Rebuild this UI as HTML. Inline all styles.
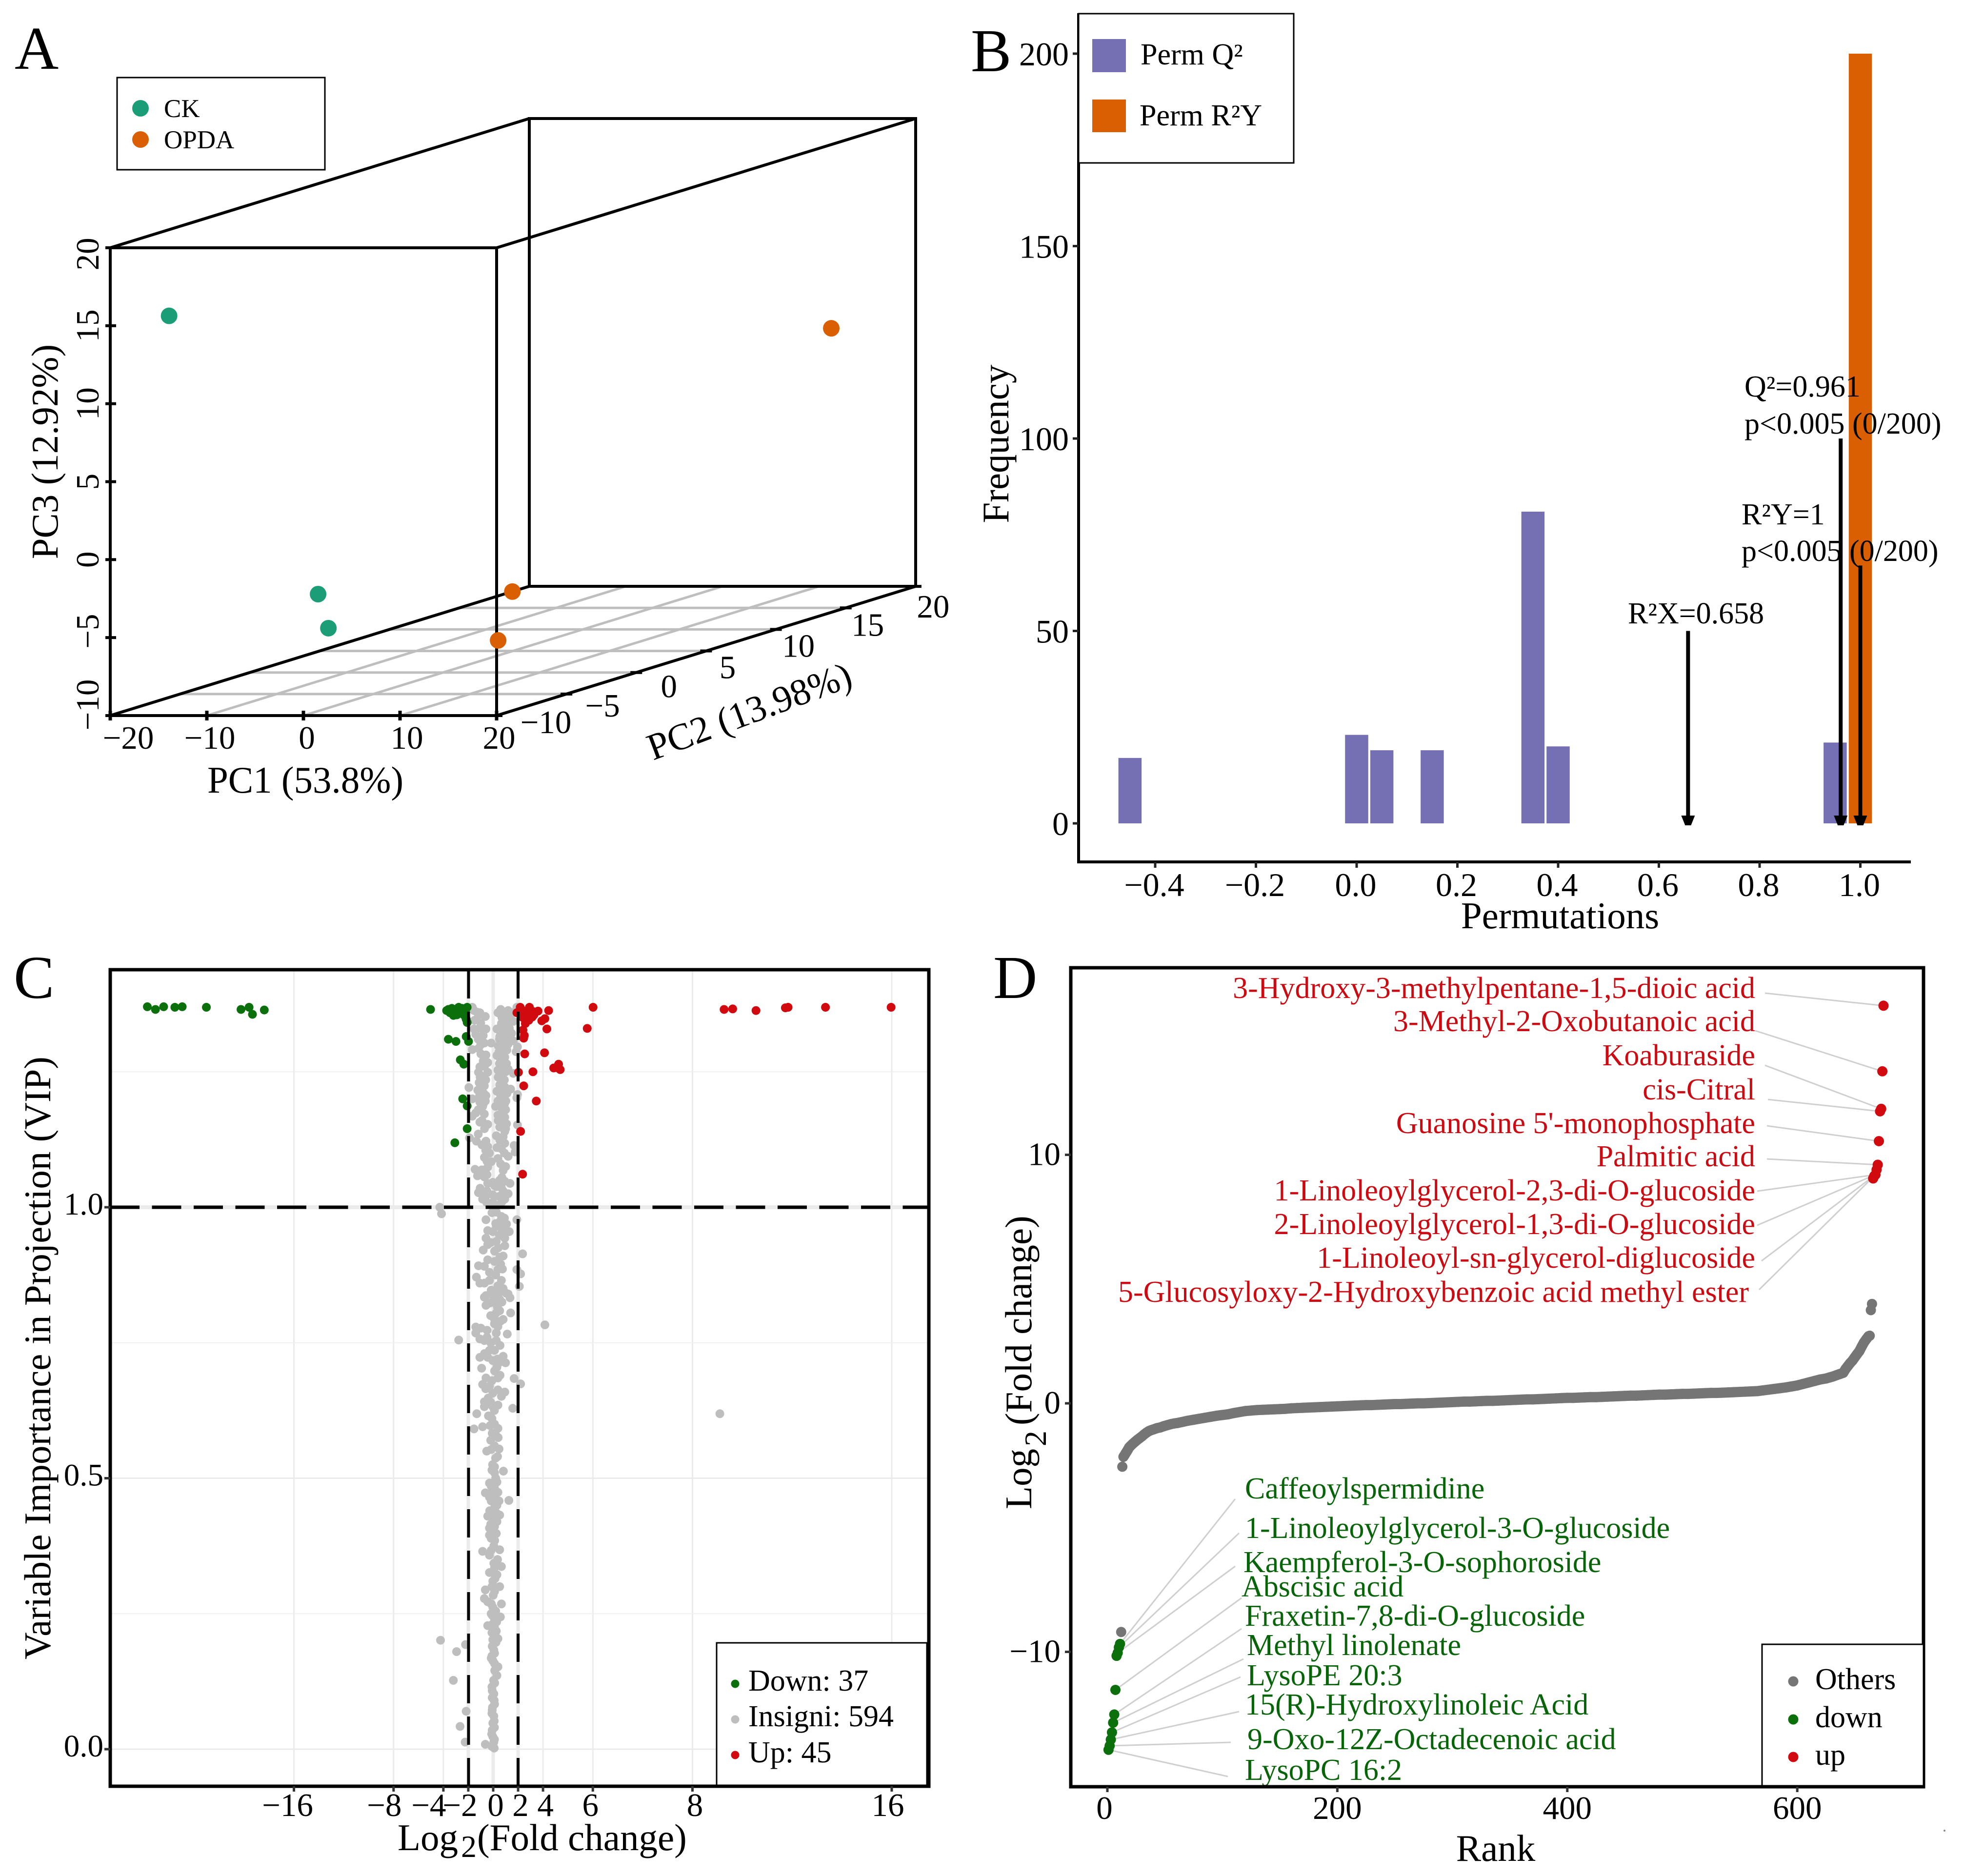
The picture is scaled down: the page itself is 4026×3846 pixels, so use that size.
<!DOCTYPE html>
<html lang="en">
<head>
<meta charset="utf-8">
<title>Metabolomics four-panel figure</title>
<style>
html,body{margin:0;padding:0;background:#fff;}
svg{display:block;font-family:"Liberation Serif","Times New Roman",serif;}
</style>
</head>
<body>
<svg id="figure" width="4026" height="3846" viewBox="0 0 4026 3846">
  <rect x="0" y="0" width="4026" height="3846" fill="#ffffff"/>

  <!-- PANEL A -->
  <g id="panelA">
    <text x="30" y="141" font-size="125">A</text>
    <g id="a-grid"></g>
    <g fill="none" stroke="#000" stroke-width="6">
      <rect x="226" y="508" width="792" height="959"/>
      <rect x="1085" y="243" width="792" height="959"/>
      <line x1="226" y1="508" x2="1085" y2="243"/>
      <line x1="1018" y1="508" x2="1877" y2="243"/>
      <line x1="226" y1="1467" x2="1085" y2="1202"/>
      <line x1="1018" y1="1467" x2="1877" y2="1202"/>
    </g>
    <g id="a-axes"></g>
    <g id="a-points"></g>
    <text x="626" y="1625" font-size="77" text-anchor="middle">PC1 (53.8%)</text>
    <text transform="translate(118,926) rotate(-90)" font-size="77" text-anchor="middle">PC3 (12.92%)</text>
    <text transform="translate(1545,1482) rotate(-20.5)" font-size="77" text-anchor="middle">PC2 (13.98%)</text>
    <g>
      <rect x="240" y="159" width="426" height="189" fill="#fff" stroke="#000" stroke-width="3"/>
      <circle cx="288" cy="222" r="17" fill="#1B9E77"/>
      <circle cx="288" cy="286" r="17" fill="#D95F02"/>
      <text x="336" y="240" font-size="53">CK</text>
      <text x="336" y="304" font-size="53">OPDA</text>
    </g>
  </g>

  <!-- PANEL B -->
  <g id="panelB">
    <g id="b-bars"></g>
    <line x1="2211" y1="27" x2="2211" y2="1770" stroke="#000" stroke-width="6"/>
    <line x1="2208" y1="1767" x2="3917" y2="1767" stroke="#000" stroke-width="6"/>
    <g id="b-axes"></g>
    <g id="b-arrows"></g>
    <text x="1990" y="146" font-size="125">B</text>
    <text x="3198" y="1903" font-size="77" text-anchor="middle">Permutations</text>
    <text transform="translate(2067,910) rotate(-90)" font-size="77" text-anchor="middle">Frequency</text>
    <text x="3337" y="1278" font-size="62">R²X=0.658</text>
    <text x="3576" y="813" font-size="62">Q²=0.961</text>
    <text x="3576" y="889" font-size="62">p&lt;0.005 (0/200)</text>
    <text x="3570" y="1075" font-size="62">R²Y=1</text>
    <text x="3570" y="1150" font-size="62">p&lt;0.005 (0/200)</text>
    <g>
      <rect x="2211" y="28" width="441" height="306" fill="#fff" stroke="#000" stroke-width="3"/>
      <rect x="2239" y="80" width="69" height="68" fill="#7570B3"/>
      <rect x="2239" y="204" width="69" height="67" fill="#D95F02"/>
      <text x="2338" y="132" font-size="62">Perm Q²</text>
      <text x="2336" y="257" font-size="62">Perm R²Y</text>
    </g>
  </g>

  <!-- PANEL C -->
  <g id="panelC">
    <text x="28" y="2046" font-size="125">C</text>
    <g id="c-grid"></g>
    <g id="c-points"></g>
    <g stroke="#000" stroke-width="6" fill="none">
      <line x1="226" y1="2475" x2="1904" y2="2475" stroke-width="7" stroke-dasharray="60 25.5"/>
      <line x1="960.5" y1="3662" x2="960.5" y2="1988" stroke-width="6" stroke-dasharray="58 27"/>
      <line x1="1062" y1="3662" x2="1062" y2="1988" stroke-width="6" stroke-dasharray="58 27"/>
    </g>
    <rect x="226" y="1988" width="1678" height="1674" fill="none" stroke="#000" stroke-width="7"/>
    <g id="c-axes"></g>
    <text y="3793" font-size="77"><tspan x="815">Log</tspan><tspan x="945" dy="14" font-size="64">2</tspan><tspan x="978" dy="-14">(Fold change)</tspan></text>
    <text transform="translate(103,2784) rotate(-90)" font-size="77" text-anchor="middle">Variable Importance in Projection (VIP)</text>
    <g>
      <rect x="1469" y="3368" width="431" height="292" fill="#fff" stroke="#000" stroke-width="3"/>
      <circle cx="1507" cy="3452" r="8.5" fill="#0b700b"/>
      <circle cx="1507" cy="3525" r="8.5" fill="#bebebe"/>
      <circle cx="1507" cy="3598" r="8.5" fill="#d10a0f"/>
      <text x="1534" y="3466" font-size="62">Down: 37</text>
      <text x="1534" y="3539" font-size="62">Insigni: 594</text>
      <text x="1534" y="3613" font-size="62">Up: 45</text>
    </g>
  </g>

  <!-- PANEL D -->
  <g id="panelD">
    <text x="2036" y="2046" font-size="125">D</text>
    <g id="d-leaders"></g>
    <g id="d-points"></g>
    <g id="d-labels"></g>
    <rect x="2195" y="1984" width="1748" height="1679" fill="none" stroke="#000" stroke-width="7"/>
    <g id="d-axes"></g>
    <text x="3066" y="3815" font-size="77" text-anchor="middle">Rank</text>
    <text transform="translate(2114,3094) rotate(-90)" font-size="77"><tspan x="0">Log</tspan><tspan x="129" dy="30" font-size="64">2</tspan><tspan x="172" dy="-30">(Fold change)</tspan></text>
    <g>
      <rect x="3612" y="3371" width="331" height="290" fill="#fff" stroke="#000" stroke-width="3"/>
      <circle cx="3676" cy="3447" r="10.5" fill="#757575"/>
      <circle cx="3676" cy="3525" r="10.5" fill="#0b700b"/>
      <circle cx="3676" cy="3602" r="10.5" fill="#d10a0f"/>
      <text x="3721" y="3463" font-size="62">Others</text>
      <text x="3721" y="3541" font-size="62">down</text>
      <text x="3721" y="3618" font-size="62">up</text>
    </g>
    <circle cx="3986" cy="3753" r="2" fill="#888"/>
  </g>
</svg>

<script>
/* ---------- Panel A data ---------- */
const ckPC1 = [-16.8, -2.82, -3.2];
const ckPC2 = [-8, -7, -6];
const ckPC3 = [15.08, -3.04, -5.5];
const opdaPC1 = [18.5, 14.4, 1.36];
const opdaPC2 = [15, -5, 3];
const opdaPC3 = [7.93, -3.43, -8.77];
const pc1Ticks = [-20, -10, 0, 10, 20];
const pc2Ticks = [-10, -5, 0, 5, 10, 15, 20];
const pc3Ticks = [-10, -5, 0, 5, 10, 15, 20];

/* ---------- Panel B data ---------- */
const q2BinCenters = [-0.45, 0, 0.05, 0.15, 0.35, 0.4, 0.95];
const q2Counts = [17, 23, 19, 19, 81, 20, 21];
const r2yBinCenters = [1.0];
const r2yCounts = [200];
const bXTicks = [-0.4, -0.2, 0, 0.2, 0.4, 0.6, 0.8, 1.0];
const bXTickLabels = ["\u22120.4", "\u22120.2", "0.0", "0.2", "0.4", "0.6", "0.8", "1.0"];
const bYTicks = [0, 50, 100, 150, 200];
const observedValues = [0.658, 0.961, 1.0];
const observedArrowTops = [50, 100, 67];

/* ---------- Panel C data ---------- */
const cXTicks = [-16, -8, -4, -2, 0, 2, 4, 8, 16, 32];
const cXTickLabels = ["\u221216", "\u22128", "\u22124", "\u22122", "0", "2", "4", "6", "8", "16"];
const cYTicks = [0, 0.5, 1.0];
const cYTickLabels = ["0.0", "0.5", "1.0"];
const cYMinor = [0.25, 0.75, 1.25];
const downFC = [-27.77,-27.12,-26.46,-25.56,-24.97,-23.03,-20.25,-19.6,-19.33,-18.38,
  -5.03,-3.6,-3.32,-3.74,-2.77,-2.64,-3.19,-2.09,-3.05,-2.23,-2.17,-2.09,
  -3.6,-2.99,-2.17,-1.98,-2.64,-2.36,-2.45,-2.09,-2.09,-3.08,-3.47,-2.92,-2.5,-2.36,-2.2];
const downVIP = [1.37,1.365,1.37,1.369,1.37,1.369,1.365,1.369,1.356,1.364,
  1.365,1.365,1.367,1.363,1.369,1.363,1.354,1.369,1.361,1.361,1.347,1.341,
  1.31,1.306,1.315,1.306,1.272,1.264,1.2,1.187,1.145,1.119,1.359,1.355,1.367,1.355,1.35];
const upFC = [2.17,1.9,2.91,3.6,4.45,8.02,18.54,19.23,21.1,23.46,23.68,26.68,31.95,
  2.31,2.58,2.86,2.45,2.72,2.58,3.13,3.27,3.9,4.15,4.31,7.55,2.39,2.5,2.45,2.53,4.12,
  2.03,3.19,4.86,5.25,5.19,5.38,2.45,3.46,2.2,2.36,3,2.72,2.31,2.86,3.21];
const upVIP = [1.369,1.359,1.369,1.362,1.363,1.369,1.365,1.366,1.363,1.368,1.369,1.369,1.369,
  1.359,1.355,1.355,1.349,1.347,1.339,1.351,1.355,1.344,1.348,1.329,1.33,1.327,1.317,1.312,1.283,1.285,
  1.249,1.25,1.257,1.264,1.257,1.254,1.224,1.196,1.14,1.061,1.363,1.363,1.351,1.345,1.361];
const insigniFC = [
  -1.68,-1.07,-.63,-1.54,-1.18,-1.54,-1.07,-.58,-1.4,-.8,-.16,-.71,-1.68,-1.18,-.99,-.58,-.44,-1.07,-1.18,-.44,
  -.85,-1.13,-.71,-1.24,-1.95,-.58,-1.68,-1.07,-.63,-.85,-1.4,-.71,-1.68,-1.07,-.44,-1.35,-.58,-1.9,-.44,-.3,
  -.71,-.16,-.44,-1.46,-.91,-1.26,-.71,-1.18,-.85,-.44,-.52,
  1.9,1.2,.38,1.48,.8,1.07,1.62,.66,1.2,.3,.8,1.48,.52,1.07,1.62,.58,1.2,1.95,.8,.47,
  1.84,.93,.58,1.07,.66,.38,1.2,.8,1.62,.66,.52,.93,1.4,.3,1.95,1.9,.66,.38,1.02,.19,
  .66,.38,.93,.66,1.07,.52,.93,1.95,.25,.52,.93,1.68,1.76,.66,1.2,.38,.8,-.03,.52,.93,
  1.35,.25,.66,1.2,-.03,.47,.93,-.03,.52,-4.29,-4.15,
  -.58,1.9,.25,.66,.52,1.07,.25,-.44,-.03,1.29,.66,.93,-.58,.25,-.8,-.44,.93,.11,.52,2.36,
  -1.18,-.44,-.71,.38,.74,1.9,2.2,-1.35,-1.07,-.3,.66,2.1,.38,-.16,-.58,.11,1.07,1.35,.52,-.3,.25,
  -.71,-.03,.52,1.2,-.58,.11,1.4,.25,.52,.8,.11,.38,1.13,-1.4,-.99,-.49,-1.4,.25,-1.07,-.71,
  .25,-.3,.11,-1.07,-.44,-.03,.8,.99,.52,-.93,.11,.38,-.58,1.68,2.2,-.85,-.3,.38,.93,-.03,
  -.71,.66,.38,1.57,-.71,-1.32,-.03,-.38,-1.54,-.85,-.25,.38,-.08,.25,-.52,-.16,.47,.19,.11,.82,.11,
  -.3,.3,-.63,-.03,.38,1.26,-.16,.47,.11,-.44,.52,-.03,-.16,.25,-.3,.25,-.16,.11,-.85,-.16,
  .52,.66,.11,-.3,-.03,.52,-.63,.11,-.71,.66,-.44,-.03,-.16,.58,.11,-.44,-.03,.25,-.03,.38,
  -.08,.11,-.16,.38,.11,.3,.03,-.08,-.08,.11,-.08,.05,-.03,-.08,-.03,.05,.08,
  4.15,18.2,-2.77,-4.23,-2.94,-2.22,-3.2,-2.17,-2.66,-2.25,-.63,
  -.1,.1,-.12,.1,.08,-.1,-.06,.08,.05,-.1,.12,.12,-.02,-.1,.05,.22,.1,-.1,.1,.28,
  -.08,.2,-.15,0,-.1,.15,.3,.05,.35,-.3,.05,.12,-.3,-.05,-.2,.3,-.28,.3,-.3,.15,
  .1,-.15,.2,-.1,-.05,.35,.1,-.2,.4,.1,-.1,
  .1,-.2,-.4,-.6,-.1,.55,.3,.35,-.7,.55,-.2,-.5,.1,.6,-.2,.35,.7,.8,-.7,.2,
  -.3,.6,.1,.8,.4,-.2,.5,.7,.2,.9,-.1,
  .7,.8,.1,.7,1,.6,.9,.3,.8,1,.4,.7,1,.9,.6,1.1,.55,.9,.4,1,
  .9,.5,.7,.3,1.1,.4,.9,.5,1,1.3,.9,1.3,.7,1.4,.9,.6,
  -1.3,-1.5,-1,-1.2,-1,-.8,-.7,-1.05,-.6,-.9,-1.1,-.75,-.8,-1.2,-.9,-.7,-1.2,-.9,-.6,-.5,
  -.5,-1.05,-.5,-.6];
const insigniVIP = [
  1.369,1.359,1.352,1.363,1.355,1.329,1.331,1.329,1.319,1.317,1.303,1.303,1.291,1.293,1.283,1.281,1.267,1.259,1.249,1.249,
  1.241,1.23,1.224,1.216,1.221,1.206,1.2,1.194,1.196,1.186,1.174,1.172,1.168,1.157,1.153,1.122,1.122,1.128,1.112,1.1,
  1.092,1.084,1.074,1.07,1.069,1.058,1.056,1.027,1.015,1.044,1.009,
  1.369,1.363,1.359,1.359,1.355,1.347,1.343,1.339,1.333,1.329,1.325,1.321,1.315,1.309,1.307,1.303,1.301,1.296,1.293,1.287,
  1.287,1.277,1.269,1.265,1.259,1.253,1.255,1.247,1.247,1.236,1.226,1.222,1.218,1.214,1.208,1.202,1.208,1.196,1.196,1.186,
  1.186,1.17,1.166,1.158,1.154,1.148,1.14,1.152,1.132,1.124,1.118,1.114,1.102,1.108,1.094,1.09,1.068,1.046,1.05,1.048,
  1.044,1.038,1.036,1.025,1.023,1.02,1.015,1.009,1.005,1,.988,
  .977,.977,.991,.983,.973,.969,.965,.957,.955,.955,.953,.943,.943,.937,.921,.931,.929,.919,.908,.914,
  .892,.903,.891,.885,.886,.885,.877,.871,.86,.865,.865,.854,.855,.847,.837,.841,.841,.833,.83,.823,.821,
  .834,.837,.843,.84,.819,.828,.805,.805,.809,.793,.793,.78,.766,.779,.777,.773,.768,.768,.757,.754,
  .754,.736,.736,.723,.723,.717,.725,.713,.714,.703,.698,.685,.685,.684,.674,.673,.67,.663,.659,.657,
  .641,.651,.635,.629,.632,.619,.632,.615,.591,.595,.597,.592,.583,.578,.55,.553,.554,.537,.521,.513,.51,
  .491,.493,.473,.477,.474,.459,.458,.458,.446,.43,.432,.427,.436,.436,.408,.398,.389,.411,.365,.367,
  .368,.337,.335,.326,.31,.3,.294,.291,.278,.268,.272,.262,.25,.244,.24,.228,.231,.218,.202,.204,
  .19,.177,.168,.152,.158,.136,.127,.108,.095,.083,.072,.061,.048,.035,.023,.013,.002,
  .783,.619,.755,.201,.18,.193,.127,.07,.042,.013,.009,
  .005,.018,.028,.04,.052,.066,.077,.09,.102,.115,.122,.145,.163,.172,.183,.197,.21,.215,.225,.235,
  .247,.255,.268,.284,.3,.315,.322,.343,.35,.358,.375,.385,.395,.4,.415,.42,.44,.45,.465,.47,
  .482,.485,.5,.515,.525,.54,.56,.57,.575,.6,.61,
  .625,.64,.648,.665,.68,.69,.705,.72,.73,.745,.75,.76,.785,.79,.8,.815,.825,.85,.86,.875,
  .88,.895,.9,.91,.925,.935,.948,.96,.97,.98,.99,
  1.01,1.03,1.04,1.055,1.075,1.08,1.1,1.11,1.13,1.145,1.16,1.175,1.18,1.19,1.205,1.21,1.22,1.235,1.24,1.25,
  1.262,1.265,1.275,1.28,1.29,1.298,1.305,1.31,1.32,1.33,1.335,1.34,1.35,1.355,1.36,1.365,
  1.36,1.345,1.34,1.31,1.3,1.27,1.26,1.24,1.235,1.215,1.205,1.21,1.19,1.18,1.16,1.145,1.135,1.115,1.105,1.085,
  1.06,1.035,1.03,1.02];

/* ---------- Panel D data ---------- */
const dXTicks = [0, 200, 400, 600];
const dYTicks = [-10, 0, 10];
const othersRank = [12,13,14,15,16,17,18,19,20,22,24,26,28,30,32,34,36,38,40,43,46,49,52,55,58,61,65,70,75,80,85,90,95,100,105,110,115,120,125,130,135,140,145,150,155,160,165,170,175,180,185,190,195,200,205,210,215,220,225,230,235,240,245,250,255,260,265,270,275,280,285,290,295,300,305,310,315,320,325,330,335,340,345,350,355,360,365,370,375,380,385,390,395,400,405,410,415,420,425,430,435,440,445,450,455,460,465,470,475,480,485,490,495,500,505,510,515,520,525,530,535,540,545,550,555,560,565,570,575,580,585,590,595,600,605,610,615,620,625,628,631,634,637,640,642,644,646,648,650,652,654,656,658,660,662,663,664,665];
const othersFC = [-9.2,-2.55,-2.15,-2.08,-2,-1.93,-1.85,-1.77,-1.72,-1.63,-1.55,-1.47,-1.4,-1.33,-1.25,-1.18,-1.12,-1.08,-1.05,-1,-.97,-.92,-.88,-.84,-.81,-.79,-.75,-.7,-.66,-.62,-.58,-.54,-.5,-.47,-.44,-.39,-.35,-.31,-.29,-.27,-.26,-.25,-.24,-.23,-.22,-.2,-.19,-.18,-.17,-.16,-.15,-.14,-.13,-.12,-.11,-.1,-.09,-.08,-.07,-.07,-.06,-.05,-.04,-.03,-.03,-.02,-.01,0,0,.01,.02,.03,.04,.05,.06,.07,.07,.08,.09,.1,.1,.11,.12,.13,.14,.15,.16,.16,.17,.18,.19,.2,.21,.22,.22,.23,.24,.25,.25,.26,.27,.28,.29,.3,.31,.31,.32,.33,.34,.35,.35,.36,.37,.38,.38,.39,.4,.41,.42,.42,.43,.44,.45,.46,.47,.48,.49,.52,.55,.58,.61,.64,.68,.72,.78,.84,.9,.96,1,1.04,1.08,1.13,1.18,1.23,1.38,1.5,1.62,1.72,1.85,1.98,2.1,2.28,2.45,2.58,2.7,2.72,3.75,4];
const downRank = [1,2,3,4,5,6,7,8,9,10,11];
const downRankFC = [-13.94,-13.78,-13.53,-13.24,-12.85,-12.52,-11.53,-10.16,-10.04,-9.82,-9.68];
const upRank = [666,667,668,669,670,671,672,673,674,675];
const upRankFC = [9.05,9.15,9.2,9.4,9.6,10.55,11.75,11.85,13.36,16];
const upNames = ["3-Hydroxy-3-methylpentane-1,5-dioic acid","3-Methyl-2-Oxobutanoic acid","Koaburaside","cis-Citral","Guanosine 5'-monophosphate","Palmitic acid","1-Linoleoylglycerol-2,3-di-O-glucoside","2-Linoleoylglycerol-1,3-di-O-glucoside","1-Linoleoyl-sn-glycerol-diglucoside","5-Glucosyloxy-2-Hydroxybenzoic acid methyl ester"];
const downNames = ["Caffeoylspermidine","1-Linoleoylglycerol-3-O-glucoside","Kaempferol-3-O-sophoroside","Abscisic acid","Fraxetin-7,8-di-O-glucoside","Methyl linolenate","LysoPE 20:3","15(R)-Hydroxylinoleic Acid","9-Oxo-12Z-Octadecenoic acid","LysoPC 16:2"];
/* which point each leader line points at */
const upLeaderTarget = [9,8,7,6,5,4,2,2,2,2];
const downLeaderTarget = [10,9,8,6,5,4,3,2,1,0];

/* ---------- helpers ---------- */
const svgRoot = document.getElementById('figure');
function add(parent, tag, attrs, text) {
  const el = document.createElementNS(svgRoot.namespaceURI, tag);
  for (const k in attrs) el.setAttribute(k, attrs[k]);
  if (text !== undefined) el.textContent = text;
  parent.appendChild(el);
  return el;
}
const g = id => document.getElementById(id);
const minus = v => String(v).replace('-', '\u2212');

/* ---------- Panel A ---------- */
const aX = p1 => 226 + (p1 + 20) * 19.8;
const aDepthX = p2 => (p2 + 10) * 28.63;
const aDepthY = p2 => (p2 + 10) * 8.83;
const aZ = p3 => 1467 - (p3 + 10) * 31.97;
const projX = (p1, p2) => aX(p1) + aDepthX(p2);
const projY = (p2, p3) => aZ(p3) - aDepthY(p2);

pc1Ticks.slice(1, 4).forEach(t => {
  const el = add(g('a-grid'), 'line', {x1: projX(t, -10), y1: projY(-10, -10), x2: projX(t, 20), y2: projY(20, -10), stroke: '#bebebe', 'stroke-width': 5});
  
  
});
pc2Ticks.slice(1, 6).forEach(t => {
  const el = add(g('a-grid'), 'line', {x1: projX(-20, t), y1: projY(t, -10), x2: projX(20, t), y2: projY(t, -10), stroke: '#bebebe', 'stroke-width': 5});
  
  
});
const pc1LabelNudge = [37, 6, 7, 14, 5];
pc1Ticks.forEach((t, i) => {
  const tick = add(g('a-axes'), 'line', {x1: aX(t), y1: 1457, x2: aX(t), y2: 1477, stroke: '#000', 'stroke-width': 7});
  
  
  const lab = add(g('a-axes'), 'text', {x: aX(t) + pc1LabelNudge[i], y: 1535, 'font-size': 67, 'text-anchor': 'middle'}, minus(t));
  
  
});
const pc3LabelNudge = [-22, -13, 0, 0, 0, 0, 13];
pc3Ticks.forEach((t, i) => {
  const tick = add(g('a-axes'), 'line', {x1: 216, y1: aZ(t), x2: 238, y2: aZ(t), stroke: '#000', 'stroke-width': 6});
  
  
  const ly = aZ(t) + pc3LabelNudge[i];
  const lab = add(g('a-axes'), 'text', {transform: `translate(202,${ly}) rotate(-90)`, 'font-size': 67, 'text-anchor': 'middle'}, minus(t));
  
  
});
const pc2LabelDX = [101, 74, 67, 44, 46, 45, 36];
const pc2LabelDY = [36, 46, 51, 56, 56, 57, 64];
pc2Ticks.forEach((t, i) => {
  const tx = projX(20, t), ty = projY(t, -10);
  const tick = add(g('a-axes'), 'line', {x1: tx - 12, y1: ty, x2: tx + 12, y2: ty, stroke: '#000', 'stroke-width': 6});
  
  
  const lab = add(g('a-axes'), 'text', {x: tx + pc2LabelDX[i], y: ty + pc2LabelDY[i], 'font-size': 67, 'text-anchor': 'middle'}, minus(t));
  
  
});
ckPC1.forEach((v, i) => {
  const el = add(g('a-points'), 'circle', {cx: projX(v, ckPC2[i]), cy: projY(ckPC2[i], ckPC3[i]), r: 17, fill: '#1B9E77'});
  
  
});
opdaPC1.forEach((v, i) => {
  const el = add(g('a-points'), 'circle', {cx: projX(v, opdaPC2[i]), cy: projY(opdaPC2[i], opdaPC3[i]), r: 17, fill: '#D95F02'});
  
  
});

/* ---------- Panel B ---------- */
const bX = v => 2781 + v * 1032.5;
const bY = v => 1688 - v * 7.89;
const bBarW = 0.046;
q2BinCenters.forEach((c, i) => {
  const el = add(g('b-bars'), 'rect', {x: bX(c - bBarW / 2), y: bY(q2Counts[i]), width: bBarW * 1032.5, height: bY(0) - bY(q2Counts[i]), fill: '#7570B3'});
  
  
});
r2yBinCenters.forEach((c, i) => {
  const el = add(g('b-bars'), 'rect', {x: bX(c - bBarW / 2), y: bY(r2yCounts[i]), width: bBarW * 1032.5, height: bY(0) - bY(r2yCounts[i]), fill: '#D95F02'});
  
  
});
bXTicks.forEach((t, i) => {
  const tick = add(g('b-axes'), 'line', {x1: bX(t), y1: 1767, x2: bX(t), y2: 1779, stroke: '#222', 'stroke-width': 5});
  
  
  const lab = add(g('b-axes'), 'text', {x: bX(t) - 2, y: 1837, 'font-size': 68, 'text-anchor': 'middle'}, bXTickLabels[i]);
  
  
});
bYTicks.forEach(t => {
  const tick = add(g('b-axes'), 'line', {x1: 2199, y1: bY(t), x2: 2211, y2: bY(t), stroke: '#222', 'stroke-width': 5});
  
  
  const lab = add(g('b-axes'), 'text', {x: 2191, y: bY(t) + 24, 'font-size': 68, 'text-anchor': 'end'}, String(t));
  
  
});
observedValues.forEach((v, i) => {
  const x = bX(v);
  const shaft = add(g('b-arrows'), 'line', {x1: x, y1: bY(observedArrowTops[i]), x2: x, y2: 1680, stroke: '#000', 'stroke-width': 8});
  
  
  const head = add(g('b-arrows'), 'polygon', {points: `${x - 14},1672 ${x + 14},1672 ${x + 6},1692 ${x - 6},1692`, fill: '#000'});
  
  
});

/* ---------- Panel C ---------- */
const cX = v => 1011 + v * 25.53;
const cY = v => 3586 - v * 1111;
cXTicks.forEach((t, i) => {
  const wide = Math.abs(t) <= 2;
  const el = add(g('c-grid'), 'line', {x1: cX(t), y1: 1988, x2: cX(t), y2: 3662, stroke: '#ebebeb', 'stroke-width': wide ? 7 : 3});
  
  
});
cYTicks.forEach(t => {
  const el = add(g('c-grid'), 'line', {x1: 226, y1: cY(t), x2: 1904, y2: cY(t), stroke: '#ebebeb', 'stroke-width': t === 1 ? 8 : 3});
  
  
});
cYMinor.forEach(t => {
  const el = add(g('c-grid'), 'line', {x1: 226, y1: cY(t), x2: 1904, y2: cY(t), stroke: '#f0f0f0', 'stroke-width': 2});
  
  
});
insigniFC.forEach((v, i) => {
  if (insigniVIP[i] === undefined) return;
  const el = add(g('c-points'), 'circle', {cx: cX(v), cy: cY(insigniVIP[i]), r: 9, fill: '#bebebe'});
  
  
});
downFC.forEach((v, i) => {
  const el = add(g('c-points'), 'circle', {cx: cX(v), cy: cY(downVIP[i]), r: 9, fill: '#0b700b'});
  
  
});
upFC.forEach((v, i) => {
  const el = add(g('c-points'), 'circle', {cx: cX(v), cy: cY(upVIP[i]), r: 9, fill: '#d10a0f'});
  
  
});
const cXLabelNudge = [-13, -19, -30, -17, 5, 5, 5, -5, 5, -8];
cXTicks.forEach((t, i) => {
  const tick = add(g('c-axes'), 'line', {x1: cX(t), y1: 3662, x2: cX(t), y2: 3673, stroke: '#333', 'stroke-width': 5});
  
  
  const lab = add(g('c-axes'), 'text', {x: cX(t) + cXLabelNudge[i], y: 3723, 'font-size': 67, 'text-anchor': 'middle'}, cXTickLabels[i]);
  
  
});
cYTicks.forEach((t, i) => {
  const tick = add(g('c-axes'), 'line', {x1: 214, y1: cY(t), x2: 226, y2: cY(t), stroke: '#333', 'stroke-width': 5});
  
  
  const lab = add(g('c-axes'), 'text', {x: 212, y: cY(t) + 15, 'font-size': 65, 'text-anchor': 'end'}, cYTickLabels[i]);
  
  
});

/* ---------- Panel D ---------- */
const dX = v => 2270 + v * 2.357;
const dY = v => 2877 - v * 50.95;
const upLabelX = [3598,3598,3598,3598,3598,3598,3598,3598,3598,3585];
const upLabelY = [2046,2114,2184,2254,2323,2391,2461,2530,2599,2669];
const upLeaderX = [3618,3598,3618,3624,3622,3622,3602,3602,3611,3606];
const upLeaderY = [2036,2113,2184,2254,2308,2376,2442,2512,2585,2644];
const downLabelX = [2552,2552,2549,2545,2552,2556,2556,2552,2557,2552];
const downLabelY = [3072,3153,3223,3273,3333,3393,3455,3515,3586,3649];
const downLeaderX = [2532,2540,2532,2545,2545,2549,2543,2540,2523,2517];
const downLeaderY = [3073,3143,3211,3276,3339,3401,3438,3509,3572,3642];

upNames.forEach((n, i) => {
  const k = upLeaderTarget[i];
  const line = add(g('d-leaders'), 'line', {x1: upLeaderX[i], y1: upLeaderY[i], x2: dX(upRank[k]), y2: dY(upRankFC[k]), stroke: '#cfcfcf', 'stroke-width': 3});
  
  
  const lab = add(g('d-labels'), 'text', {x: upLabelX[i], y: upLabelY[i], 'font-size': 62, 'text-anchor': 'end', fill: '#cc0a12'}, n);
  
  
});
downNames.forEach((n, i) => {
  const k = downLeaderTarget[i];
  const line = add(g('d-leaders'), 'line', {x1: downLeaderX[i], y1: downLeaderY[i], x2: dX(downRank[k]), y2: dY(downRankFC[k]), stroke: '#cfcfcf', 'stroke-width': 3});
  
  
  const lab = add(g('d-labels'), 'text', {x: downLabelX[i], y: downLabelY[i], 'font-size': 62, fill: '#086408'}, n);
  
  
});
/* continuous body of the overlapping "Others" dots, drawn from the same arrays */
const curvePoints = othersRank
  .map((r, i) => [r, othersFC[i]])
  .filter(p => p[0] >= 14 && p[0] <= 663)
  .map(p => dX(p[0]) + ',' + dY(p[1]))
  .join(' ');
const curve = add(g('d-points'), 'polyline', {points: curvePoints, fill: 'none', stroke: '#757575', 'stroke-width': 21, 'stroke-linejoin': 'round', 'stroke-linecap': 'round'});


othersRank.forEach((r, i) => {
  const el = add(g('d-points'), 'circle', {cx: dX(r), cy: dY(othersFC[i]), r: 10.5, fill: '#757575'});
  
  
});
downRank.forEach((r, i) => {
  const el = add(g('d-points'), 'circle', {cx: dX(r), cy: dY(downRankFC[i]), r: 10.5, fill: '#0b700b'});
  
  
});
upRank.forEach((r, i) => {
  const el = add(g('d-points'), 'circle', {cx: dX(r), cy: dY(upRankFC[i]), r: 10.5, fill: '#d10a0f'});
  
  
});
dXTicks.forEach(t => {
  const tick = add(g('d-axes'), 'line', {x1: dX(t), y1: 3663, x2: dX(t), y2: 3674, stroke: '#333', 'stroke-width': 5});
  
  
  const lab = add(g('d-axes'), 'text', {x: dX(t) - (t === 0 ? 6 : 0), y: 3729, 'font-size': 67, 'text-anchor': 'middle'}, String(t));
  
  
});
dYTicks.forEach(t => {
  const tick = add(g('d-axes'), 'line', {x1: 2183, y1: dY(t), x2: 2195, y2: dY(t), stroke: '#333', 'stroke-width': 5});
  
  
  const lab = add(g('d-axes'), 'text', {x: 2174, y: dY(t) + 21, 'font-size': 67, 'text-anchor': 'end'}, minus(t));
  
  
});
</script>
</body>
</html>
